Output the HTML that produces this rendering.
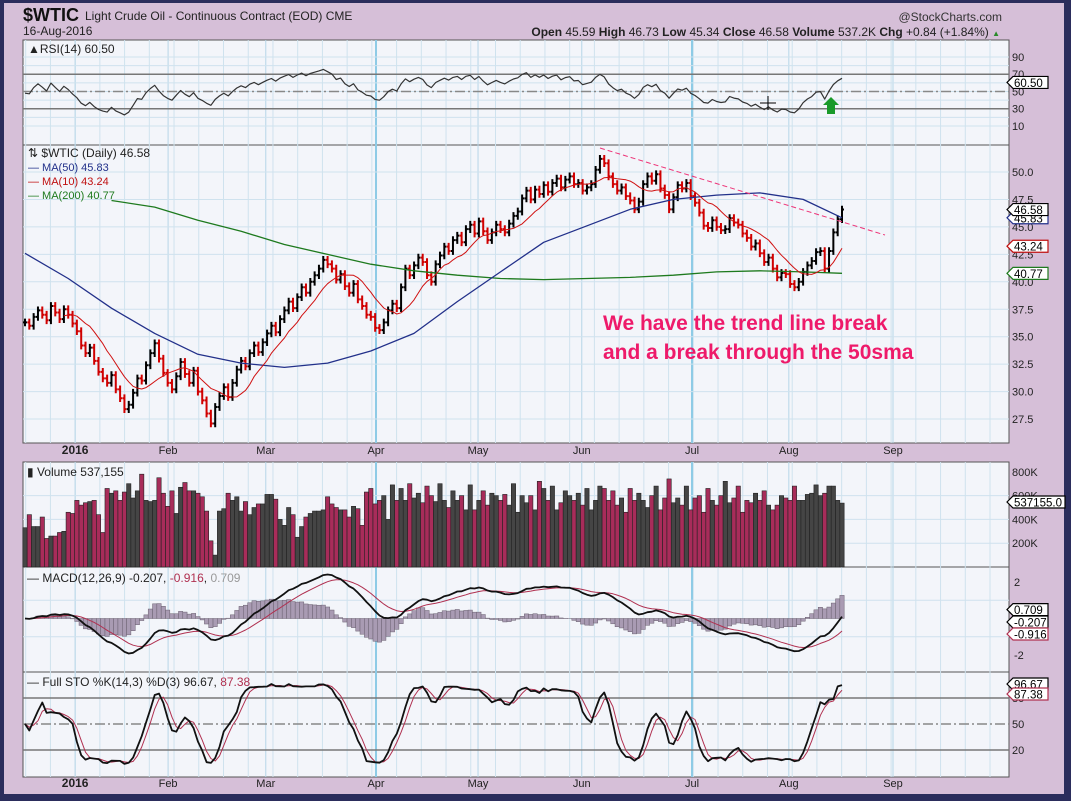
<!DOCTYPE html>
<html><head><meta charset="utf-8"><style>
html,body{margin:0;padding:0;background:#2b2d5c;}
svg{display:block;font-family:"Liberation Sans",sans-serif;}
</style></head><body>
<svg id="c" width="1071" height="801" viewBox="0 0 1071 801">
<rect x="0" y="0" width="1071" height="801" fill="#2b2d5c"/>
<rect x="4" y="3" width="1060" height="791" fill="#d6bfd8"/>
<g id="panels"></g>
<g id="grid"></g>
<g id="marks"></g>
<g id="labels"></g>
</svg>
<script>
const closes=[36.3,36.0,36.8,37.4,37.0,36.5,37.8,37.2,36.6,37.5,
37.0,36.2,35.5,34.2,33.5,34.0,32.8,31.8,31.2,30.8,
31.5,30.2,29.4,28.4,28.8,29.9,31.2,31.0,32.4,33.5,
34.4,33.0,31.7,30.8,30.2,31.4,32.7,31.6,30.8,31.9,
30.0,29.2,28.0,27.1,28.6,29.6,30.4,29.5,30.8,32.0,
32.8,32.3,33.5,34.2,33.6,34.5,35.3,36.0,35.4,36.6,
37.4,38.2,37.6,38.6,39.5,39.0,40.0,40.6,41.2,42.0,
41.6,41.2,40.2,40.7,39.6,39.0,39.8,38.4,37.8,37.0,
36.8,35.8,35.6,36.3,37.4,38.0,37.6,39.5,41.2,40.6,
41.5,42.2,41.8,40.6,40.0,41.6,42.4,43.2,42.8,43.8,
44.2,43.6,44.8,45.2,44.4,45.5,44.6,43.8,44.5,45.2,
44.8,44.5,45.3,46.0,46.4,47.6,48.3,47.5,48.4,48.0,
48.8,48.2,49.0,49.4,48.6,49.3,49.6,48.9,49.0,48.3,
48.6,48.9,50.2,51.2,50.8,49.6,48.9,48.3,48.6,47.8,
47.4,46.6,47.3,48.9,49.6,49.2,49.8,48.5,47.9,46.6,
47.7,48.8,48.5,49.0,47.8,47.2,46.3,45.1,44.9,45.6,
45.0,44.7,44.8,45.8,45.4,45.2,44.4,44.0,43.2,43.5,
42.6,41.8,42.2,41.2,40.4,40.8,40.7,39.8,39.5,40.0,
40.9,41.5,41.9,42.7,42.8,41.2,42.8,44.5,45.7,46.58];
const volumesK=[330,440,340,340,420,240,260,260,290,300,
460,450,560,520,540,550,560,440,290,660,
620,640,560,630,700,580,640,780,560,550,
560,750,620,510,640,450,670,710,640,640,
620,590,470,220,100,470,490,620,560,590,
470,550,440,500,530,530,610,610,570,400,
350,500,440,250,340,420,450,470,470,480,
590,530,500,480,480,420,510,490,350,630,
660,530,560,600,400,690,560,660,560,700,
580,620,540,680,600,550,700,560,500,640,
560,600,480,690,480,560,640,520,620,600,
560,610,520,700,460,600,540,600,480,720,
660,560,680,480,540,640,600,560,620,520,
660,480,560,680,660,560,640,520,580,460,
660,560,620,560,500,600,680,480,580,740,
540,580,520,680,480,580,600,460,660,560,
520,600,720,540,580,680,460,560,540,620,
560,640,520,480,520,600,580,560,680,560,
560,610,620,690,600,620,680,680,560,537];
const ma50Read=[42.6,40.3,37.6,35.3,33.4,32.6,32.2,32.6,33.7,35.3,38.2,40.9,43.6,45.1,46.6,47.5,47.9,48.1,47.5,45.83];
const ma200Read=[null,null,47.4,46.8,45.6,44.6,43.4,42.5,41.6,41.0,40.6,40.3,40.2,40.3,40.4,40.6,40.9,41.0,40.9,40.77];
const priceTicks=[27.5,30.0,32.5,35.0,37.5,40.0,42.5,45.0,47.5,50.0];
const rsiTicks=[10,30,50,70,90];
const volTicks=[200,400,600,800];
const stoTicks=[20,50,80];
const monthLabels=["2016","Feb","Mar","Apr","May","Jun","Jul","Aug","Sep"];
const monthBars=[11.6,33.1,55.7,81.2,104.8,128.8,154.3,176.7,200.8];

const NS="http://www.w3.org/2000/svg";
const L=23,R=1009,N=closes.length,step=(842-25)/(N-1);
function X(i){return 25+i*step;}
function el(parent,tag,attrs,text){const e=document.createElementNS(NS,tag);for(const k in attrs)e.setAttribute(k,attrs[k]);if(text!==undefined)e.textContent=text;document.getElementById(parent).appendChild(e);return e;}
const P={rsi:[40,145],price:[145,443],vol:[462,567],macd:[567,672],sto:[672,777]};
const yPrice=p=>172+(50-p)*10.98;
const yRsi=v=>134.6-0.8625*v;
const yVol=v=>567-v*0.119;
const yMacd=v=>618.5-v*18.2;
const ySto=v=>767.3-0.867*v;
function monthX(k){return X(monthBars[k]);}

for(const k in P){const [t,b]=P[k];
 const r=el('panels','rect',{x:L,y:t,width:R-L,height:b-t,fill:'#f3f5fa',stroke:'#555',"stroke-width":1});
 }
const wk=5.72;
for(let i=monthBars[0]-2*wk;i<240;i+=wk){const x=X(i);if(x>L&&x<R){for(const k in P){const l=el('grid','line',{x1:x,x2:x,y1:P[k][0],y2:P[k][1],stroke:'#cfe2ee',"stroke-width":1});}}}
for(let m=0;m<9;m++){const x=monthX(m);const q=(m==3||m==6);for(const k in P){const l=el('grid','line',{x1:x,x2:x,y1:P[k][0],y2:P[k][1],stroke:q?'#8ecbe6':'#b6d6e8',"stroke-width":q?2:1});}}
function hgrid(vals,f,panel,strong){vals.forEach(v=>{const y=f(v);const l=el('grid','line',{x1:L,x2:R,y1:y,y2:y,stroke:strong?'#777':'#cfe2ee',"stroke-width":strong?1.5:1});});}
hgrid(priceTicks,yPrice,'price');hgrid([600,400,200],yVol,'volume');hgrid([-1,1],yMacd,'macd');
for(let v=10;v<100;v+=10)hgrid([v],yRsi,'rsi');
hgrid([70,30],yRsi,'rsi',true);
hgrid([80,20],ySto,'sto',true);
[[yRsi(50),'rsi'],[ySto(50),'sto']].forEach(([y,n])=>{const l=el('grid','line',{x1:L,x2:R,y1:y,y2:y,stroke:'#888',"stroke-width":1.5,"stroke-dasharray":'10,3,2,3'});});

const hi=closes.map((c,i)=>Math.max(c,i?closes[i-1]:c)+0.35);
const lo=closes.map((c,i)=>Math.min(c,i?closes[i-1]:c)-0.35);
function sma(a,n){return a.map((_,i)=>{if(i<n-1)return null;let s=0;for(let j=i-n+1;j<=i;j++)s+=a[j];return s/n;});}
function ema(a,n){const k=2/(n+1);let e=a[0];return a.map(v=>e=v*k+e*(1-k));}
const ma10=sma(closes,10);
let ag=0.2,al=0.2;const rsi=closes.map((c,i)=>{if(i==0)return 48;const d=c-closes[i-1];ag=(ag*13+Math.max(d,0))/14;al=(al*13+Math.max(-d,0))/14;return 100-100/(1+ag/al);});
const e12=ema(closes,12),e26=ema(closes,26);const macd=e12.map((v,i)=>v-e26[i]);const sig=ema(macd,9);
const rawK=closes.map((c,i)=>{const s=Math.max(0,i-13);const hh=Math.max(...hi.slice(s,i+1)),ll=Math.min(...lo.slice(s,i+1));return 100*(c-ll)/(hh-ll);});
const fk=rawK.map((_,i)=>{const s=Math.max(0,i-2);const a=rawK.slice(s,i+1);return a.reduce((p,q)=>p+q,0)/a.length;});
const fd=fk.map((_,i)=>{const s=Math.max(0,i-2);const a=fk.slice(s,i+1);return a.reduce((p,q)=>p+q,0)/a.length;});
function poly(vals,f,color,w,name,xf){const pts=[];vals.forEach((v,i)=>{if(v!==null&&v!==undefined)pts.push((xf?xf(i):X(i)).toFixed(1)+','+f(v).toFixed(1));});const p=el('marks','polyline',{points:pts.join(' '),fill:'none',stroke:color,"stroke-width":w,"stroke-linejoin":"round"});return p;}
const readX=i=>i<19?X(i*10):X(N-1);

poly(rsi,yRsi,'#333',1.2,'rsi-line');
closes.forEach((c,i)=>{const x=X(i);const o=i?closes[i-1]:c;const col=c<o?'#d00000':'#000';
 const g=el('marks','path',{d:`M${x} ${yPrice(hi[i])}V${yPrice(lo[i])}M${x-2} ${yPrice(o)}H${x}M${x} ${yPrice(c)}H${x+2}`,stroke:col,"stroke-width":2,fill:'none'});
 });
poly(ma200Read,yPrice,'#1e7a1e',1.3,'ma200-line',readX);
poly(ma50Read,yPrice,'#22308a',1.3,'ma50-line',readX);
poly(ma10,yPrice,'#d01010',1,'ma10-line');
const tl=el('marks','line',{x1:600,y1:148,x2:885,y2:235,stroke:'#ee3377',"stroke-width":1,"stroke-dasharray":'5,3'});
volumesK.forEach((v,i)=>{const down=i&&closes[i]<closes[i-1];const r=el('marks','rect',{x:X(i)-step/2,y:yVol(v),width:step,height:567-yVol(v),fill:down?'#a82c5a':'#454545',stroke:'#222',"stroke-width":0.6});});
macd.forEach((m,i)=>{const h=m-sig[i];const y0=yMacd(0),y1=yMacd(h*1.6);const r=el('marks','rect',{x:X(i)-step/2,y:Math.min(y0,y1),width:step,height:Math.abs(y1-y0),fill:'#a99bb3',stroke:'#6a6070',"stroke-width":0.5});});
poly(sig,yMacd,'#b03050',1,'macd-signal-line');
poly(macd,yMacd,'#111',1.8,'macd-line');
poly(fd,ySto,'#b03050',1,'sto-d-line');
poly(fk,ySto,'#111',1.8,'sto-k-line');

function tx(x,y,s,attrs,name,inter){const t=el('labels','text',Object.assign({x:x,y:y,"font-size":11,fill:'#222'},attrs||{}),s);return t;}
function tspan(t,s,attrs){const e=document.createElementNS(NS,'tspan');for(const k in (attrs||{}))e.setAttribute(k,attrs[k]);e.textContent=s;t.appendChild(e);}
tx(23,21,'$WTIC',{"font-size":18,"font-weight":'bold',fill:'#111'},'ticker-symbol');
tx(85,20,'Light Crude Oil - Continuous Contract (EOD) CME',{"font-size":12},'ticker-description');
tx(23,35,'16-Aug-2016',{"font-size":12},'chart-date');
tx(1002,21,'@StockCharts.com',{"font-size":12,"text-anchor":'end',fill:'#333'},'watermark');
const hdr=tx(1000,36,'',{"font-size":12,"text-anchor":'end'},'ohlc-summary');
[['Open',1],[' 45.59  ',0],['High',1],[' 46.73  ',0],['Low',1],[' 45.34  ',0],['Close',1],[' 46.58  ',0],['Volume',1],[' 537.2K  ',0],['Chg',1],[' +0.84 (+1.84%) ',0]].forEach(([s,b])=>tspan(hdr,s,b?{"font-weight":'bold'}:{}));
tspan(hdr,'▲',{fill:'#2a8a2a',"font-size":8});
hdr.setAttribute('xml:space','preserve');
tx(28,53,'▲RSI(14) 60.50',{"font-size":12},'rsi-title');
tx(28,157,'⇅ $WTIC (Daily) 46.58',{"font-size":12},'price-title');
tx(28,171,'— MA(50) 45.83',{"font-size":11,fill:'#22308a'},'ma50-legend');
tx(28,185,'— MA(10) 43.24',{"font-size":11,fill:'#c01010'},'ma10-legend');
tx(28,199,'— MA(200) 40.77',{"font-size":11,fill:'#1e7a1e'},'ma200-legend');
tx(27,476,'▮ Volume 537,155',{"font-size":12},'volume-title');
const mt=tx(27,582,'— MACD(12,26,9) -0.207, ',{"font-size":12},'macd-title');tspan(mt,'-0.916',{fill:'#b03050'});tspan(mt,', ');tspan(mt,'0.709',{fill:'#999'});
const st=tx(27,686,'— Full STO %K(14,3) %D(3) 96.67, ',{"font-size":12},'sto-title');tspan(st,'87.38',{fill:'#b03050'});
tx(603,330,'We have the trend line break',{"font-size":21,"font-weight":'bold',fill:'#ee1a6a'},'annotation-line-1');
tx(603,359,'and a break through the 50sma',{"font-size":21,"font-weight":'bold',fill:'#ee1a6a'},'annotation-line-2');
priceTicks.forEach(v=>tx(1012,yPrice(v)+4,v.toFixed(1),{},'price-tick-label'));
rsiTicks.forEach(v=>tx(1012,yRsi(v)+4,String(v),{},'rsi-tick-label'));
volTicks.forEach(v=>tx(1012,yVol(v)+4,v+'K',{},'volume-tick-label'));
[-2,2].forEach(v=>tx(1014,yMacd(v)+4,String(v),{},'macd-tick-label'));
stoTicks.forEach(v=>tx(1012,ySto(v)+4,String(v),{},'sto-tick-label'));
monthLabels.forEach((m,k)=>{tx(monthX(k),454,m,{"text-anchor":'middle',"font-weight":k==0?'bold':'normal',"font-size":k==0?12:11},'x-axis-label-top');tx(monthX(k),787,m,{"text-anchor":'middle',"font-weight":k==0?'bold':'normal',"font-size":k==0?12:11},'x-axis-label-bottom');});
function tag(y,s,col,name,w){w=w||35;const g=el('labels','path',{d:`M1007 ${y} l6 -6 h${w} v12 h-${w} z`,fill:'#fff',stroke:col,"stroke-width":1.2});tx(1014,y+4.5,s,{"font-size":11.5,fill:'#000'},name);}
tag(yRsi(60.5),'60.50','#000','rsi-value-tag');
tag(yPrice(45.83),'45.83','#22308a','ma50-value-tag');
tag(yPrice(46.58),'46.58','#000','price-value-tag');
tag(yPrice(43.24),'43.24','#c01010','ma10-value-tag');
tag(yPrice(40.77),'40.77','#1e7a1e','ma200-value-tag');
tag(502,'537155.0','#000','volume-value-tag',52);
tag(yMacd(0.709)+4,'0.709','#000','macd-hist-tag');
tag(622,'-0.207','#000','macd-value-tag');
tag(634,'-0.916','#b03050','macd-signal-tag');
tag(684,'96.67','#000','sto-k-tag');
tag(694,'87.38','#b03050','sto-d-tag');
const ar=el('labels','path',{d:'M831 97 l8 8 h-4 v9 h-8 v-9 h-4 z',fill:'#1a9a2a'});
const ch=el('labels','path',{d:'M760 103 h16 M768 96 v14',stroke:'#000',"stroke-width":1});
</script>
</body></html>
